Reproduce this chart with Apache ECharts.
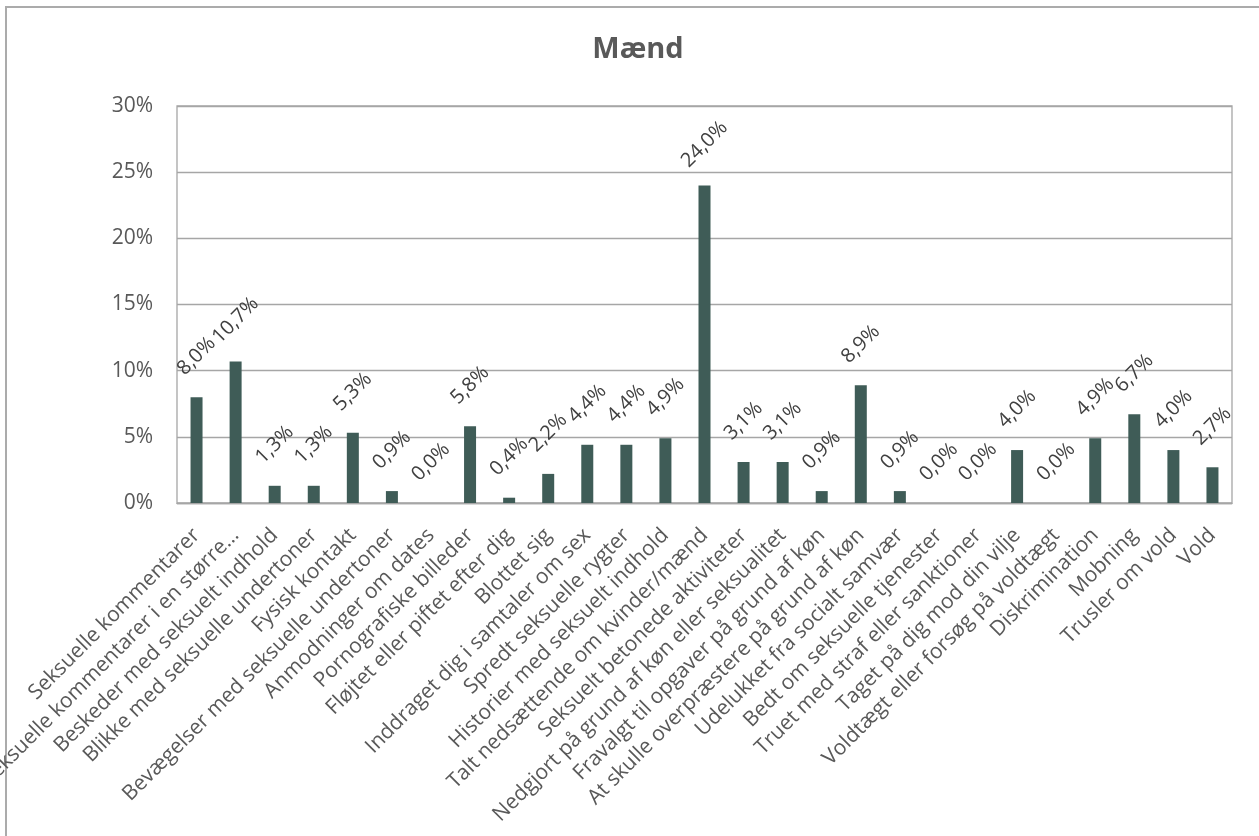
<!DOCTYPE html>
<html>
<head>
<meta charset="utf-8">
<script src="https://cdn.jsdelivr.net/npm/echarts@6/dist/echarts.min.js"></script>
<style>
html,body{margin:0;padding:0;background:#fff;}
#chart{width:1259px;height:836px;}
</style>
</head>
<body>
<div id="chart"></div>
<script>
const title = "Mænd";
const categories = [
  "Seksuelle kommentarer",
  "Seksuelle kommentarer i en større…",
  "Beskeder med seksuelt indhold",
  "Blikke med seksuelle undertoner",
  "Fysisk kontakt",
  "Bevægelser med seksuelle undertoner",
  "Anmodninger om dates",
  "Pornografiske billeder",
  "Fløjtet eller piftet efter dig",
  "Blottet sig",
  "Inddraget dig i samtaler om sex",
  "Spredt seksuelle rygter",
  "Historier med seksuelt indhold",
  "Talt nedsættende om kvinder/mænd",
  "Seksuelt betonede aktiviteter",
  "Nedgjort på grund af køn eller seksualitet",
  "Fravalgt til opgaver på grund af køn",
  "At skulle overpræstere på grund af køn",
  "Udelukket fra socialt samvær",
  "Bedt om seksuelle tjenester",
  "Truet med straf eller sanktioner",
  "Taget på dig mod din vilje",
  "Voldtægt eller forsøg på voldtægt",
  "Diskrimination",
  "Mobning",
  "Trusler om vold",
  "Vold"
];
const values = [8.0, 10.7, 1.3, 1.3, 5.3, 0.9, 0.0, 5.8, 0.4, 2.2, 4.4, 4.4, 4.9, 24.0, 3.1, 3.1, 0.9, 8.9, 0.9, 0.0, 0.0, 4.0, 0.0, 4.9, 6.7, 4.0, 2.7];
const yTicks = [0, 5, 10, 15, 20, 25, 30];

const FONT = "Open Sans";
const TXT = "#595959";
const GRID = "#A6A6A6";

const chart = echarts.init(document.getElementById('chart'), null, {renderer: 'canvas'});
chart.setOption({
  animation: false,
  backgroundColor: '#ffffff',
  graphic: [{
    type: 'rect',
    shape: {x: 6, y: 7, width: 1300, height: 900},
    style: {fill: 'none', stroke: '#ABABAB', lineWidth: 2},
    silent: true, z: -10
  }],
  title: {
    text: title,
    left: 633,
    top: 30,
    textAlign: 'center',
    textStyle: {fontFamily: FONT, fontSize: 29, fontWeight: 'bold', color: TXT}
  },
  grid: {
    left: 177, right: 27, top: 106, bottom: 333,
    show: true, borderColor: GRID, borderWidth: 1.3,
    containLabel: false,
    outerBoundsMode: 'none'
  },
  xAxis: {
    type: 'category',
    data: categories,
    axisLine: {show: true, lineStyle: {color: GRID, width: 1.3}},
    axisTick: {show: false},
    axisLabel: {
      interval: 0,
      rotate: 45,
      margin: 29,
      verticalAlign: 'middle',
      fontFamily: FONT,
      fontSize: 21,
      color: TXT
    }
  },
  yAxis: {
    type: 'value',
    min: yTicks[0],
    max: yTicks[yTicks.length - 1],
    interval: 5,
    axisLine: {show: false},
    axisTick: {show: false},
    splitLine: {lineStyle: {color: GRID, width: 1.3}},
    axisLabel: {
      margin: 24,
      fontFamily: FONT,
      fontSize: 21,
      color: TXT,
      formatter: v => v + '%'
    }
  },
  series: [{
    type: 'bar',
    data: values,
    barWidth: 12,
    itemStyle: {color: '#3F5C57'},
    label: {
      show: true,
      position: 'top',
      distance: 41,
      rotate: 45,
      align: 'center',
      verticalAlign: 'middle',
      fontFamily: FONT,
      fontSize: 20,
      color: '#404040',
      formatter: p => p.value.toFixed(1).replace('.', ',') + '%'
    }
  }]
});
</script>
</body>
</html>
